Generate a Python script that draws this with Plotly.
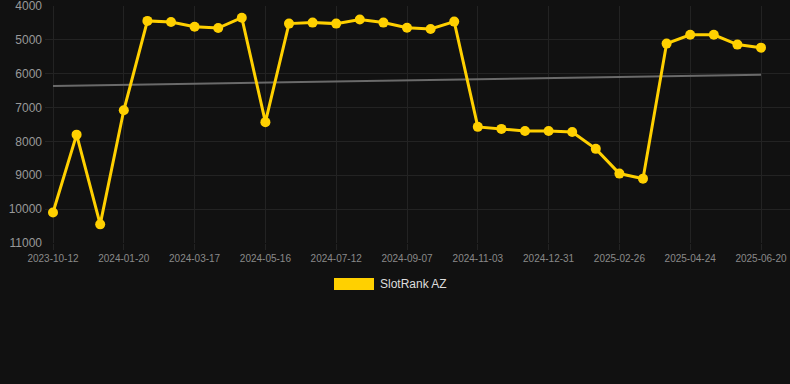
import plotly.graph_objects as go

dates = ["2023-10-12", "2023-11-14", "2023-12-17", "2024-01-20", "2024-02-08", "2024-02-27",
         "2024-03-17", "2024-04-06", "2024-04-26", "2024-05-16", "2024-06-04", "2024-06-23",
         "2024-07-12", "2024-07-31", "2024-08-19", "2024-09-07", "2024-09-26", "2024-10-15",
         "2024-11-03", "2024-11-22", "2024-12-11", "2024-12-31", "2025-01-19", "2025-02-07",
         "2025-02-26", "2025-03-17", "2025-04-05", "2025-04-24", "2025-05-13", "2025-06-01",
         "2025-06-20"]
ranks = [10100, 7800, 10450, 7080, 4440, 4470, 4610, 4650, 4345, 7430, 4520, 4490,
         4520, 4400, 4490, 4640, 4680, 4460, 7570, 7630, 7690, 7690, 7720, 8220,
         8950, 9100, 5110, 4850, 4850, 5140, 5230]
trend_dates = [dates[0], dates[-1]]
trend_values = [6360, 6030]
tick_labels = dates[::3]
y_ticks = [4000, 5000, 6000, 7000, 8000, 9000, 10000, 11000]
y_tick_text = [str(v) for v in y_ticks]
series_name = "SlotRank AZ"

YELLOW = "#FFD000"
BG = "#111111"
GRID = "#232323"

fig = go.Figure()
fig.add_trace(go.Scatter(
    x=trend_dates, y=trend_values, mode="lines",
    line=dict(color="#6a6a6a", width=2), hoverinfo="skip", showlegend=False,
))
fig.add_trace(go.Scatter(
    x=dates, y=ranks, mode="lines+markers", name=series_name,
    line=dict(color=YELLOW, width=3),
    marker=dict(color=YELLOW, size=10),
    cliponaxis=False, showlegend=False,
))

n = len(dates)
unit = 708 / (n - 1)
fig.update_xaxes(
    type="category", categoryorder="array", categoryarray=dates,
    range=[-8 / unit, (n - 1) + 29 / unit],
    tickmode="array", tickvals=tick_labels, ticktext=tick_labels,
    showgrid=True, gridcolor=GRID, gridwidth=1,
    ticks="outside", ticklen=6, tickcolor=GRID,
    tickfont=dict(family="Liberation Sans, Arial, sans-serif", size=10, color="#8a8a8a"),
    showline=False, zeroline=False, ticklabeloverflow="allow",
)
fig.update_yaxes(
    range=[11000.5, 3999.5], tickmode="array", tickvals=y_ticks, ticktext=y_tick_text,
    showgrid=True, gridcolor=GRID, gridwidth=1,
    ticks="", ticklabelstandoff=2, ticklabeloverflow="allow",
    tickfont=dict(family="Liberation Sans, Arial, sans-serif", size=12, color="#999999"),
    showline=False, zeroline=False,
)

# legend drawn as a swatch + label
fig.add_shape(type="rect", xref="paper", yref="paper",
              x0=(334 - 45) / 745, x1=(374 - 45) / 745,
              y0=(243 - 278) / 237, y1=(243 - 290) / 237,
              fillcolor=YELLOW, line=dict(width=0))
fig.add_annotation(text=series_name, xref="paper", yref="paper",
                   x=(378 - 45) / 745, y=(243 - 284) / 237,
                   xanchor="left", yanchor="middle", showarrow=False,
                   font=dict(family="Liberation Sans, Arial, sans-serif", size=12, color="#dddddd"))

fig.update_layout(
    width=790, height=384,
    margin=dict(l=45, r=0, t=6, b=141),
    paper_bgcolor=BG, plot_bgcolor=BG,
    showlegend=False,
)
fig.write_html("out.html")
